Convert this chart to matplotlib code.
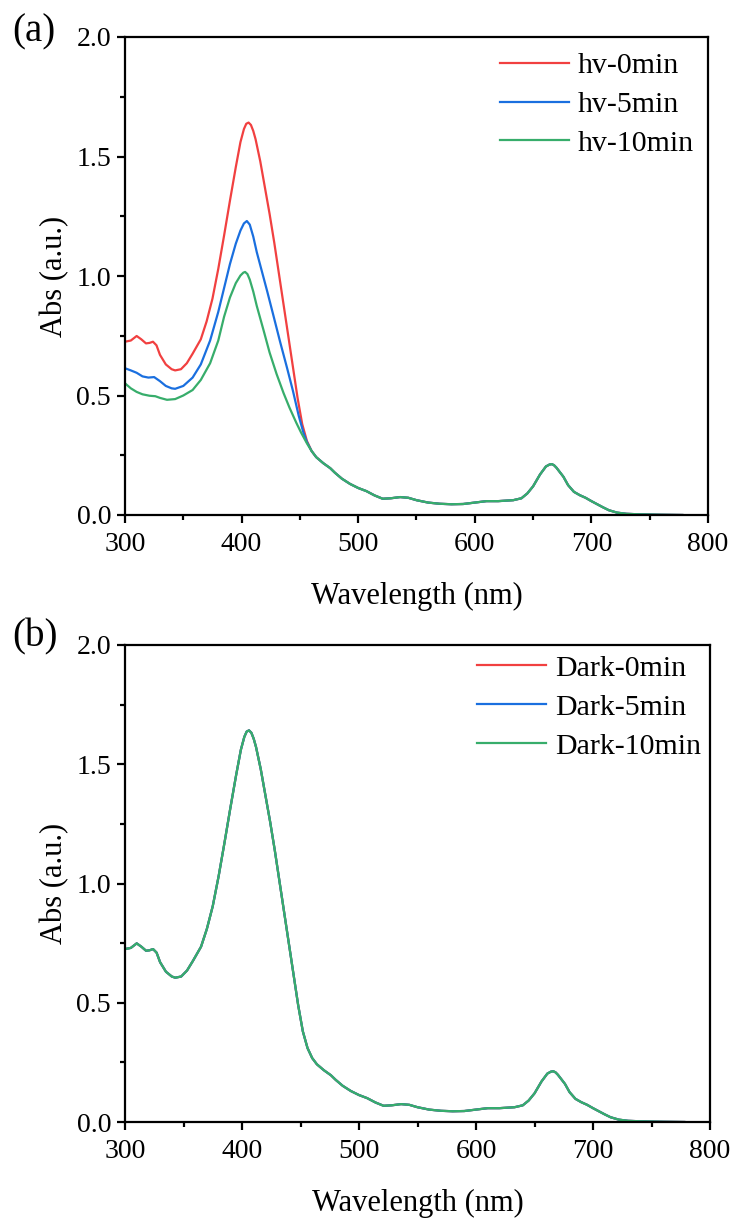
import matplotlib
matplotlib.use("Agg")
import matplotlib.pyplot as plt
import numpy as np

plt.rcParams['font.family'] = ['Liberation Serif', 'DejaVu Serif']

# ---------------- data ----------------
# common tail (all curves coincide beyond ~457 nm)
tail_wl = [460, 464, 470, 476, 480, 486, 493, 500, 507, 514, 521, 528, 536, 543,
           550, 560, 570, 580, 590, 600, 610, 620, 633, 640, 645, 650, 656, 661,
           664, 666, 668, 670, 676, 680, 685, 690, 695, 700, 705, 710, 715, 722,
           730, 740, 760, 778]
tail_abs = [0.268, 0.242, 0.217, 0.196, 0.177, 0.152, 0.13, 0.113, 0.10, 0.082,
            0.068, 0.07, 0.075, 0.072, 0.062, 0.052, 0.047, 0.045, 0.046, 0.052,
            0.058, 0.058, 0.062, 0.07, 0.09, 0.12, 0.17, 0.203, 0.211, 0.213,
            0.208, 0.198, 0.16, 0.125, 0.097, 0.083, 0.072, 0.058, 0.045, 0.032,
            0.02, 0.01, 0.005, 0.003, 0.001, 0.0]

hv0_wl = [300, 305, 310, 314, 318, 321, 324, 327, 330, 335, 340, 343, 348, 353,
          358, 365, 370, 375, 380, 385, 390, 395, 399, 402, 404, 406, 408, 410,
          412, 416, 420, 424, 428, 432, 436, 440, 444, 448, 452, 456]
hv0_abs = [0.725, 0.73, 0.749, 0.735, 0.718, 0.72, 0.725, 0.71, 0.67, 0.63,
           0.61, 0.605, 0.61, 0.635, 0.675, 0.735, 0.81, 0.905, 1.03, 1.17,
           1.315, 1.455, 1.56, 1.615, 1.637, 1.642, 1.632, 1.607, 1.572, 1.48,
           1.37, 1.26, 1.14, 1.01, 0.88, 0.75, 0.62, 0.49, 0.38, 0.31]

hv5_wl = [300, 305, 310, 315, 320, 325, 330, 335, 340, 343, 350, 358, 365, 373,
          380, 385, 390, 395, 399, 402, 404.5, 407, 410, 413, 416, 422, 427, 433,
          439, 444, 449, 453, 456]
hv5_abs = [0.614, 0.605, 0.595, 0.58, 0.575, 0.577, 0.56, 0.54, 0.53, 0.528,
           0.54, 0.575, 0.63, 0.73, 0.85, 0.95, 1.05, 1.135, 1.19, 1.22, 1.23,
           1.215, 1.165, 1.10, 1.045, 0.935, 0.84, 0.725, 0.615, 0.52, 0.415,
           0.345, 0.305]

hv10_wl = [300, 305, 310, 315, 321, 326, 330, 336, 343, 350, 358, 365, 373, 380,
           385, 390, 395, 399, 401.5, 403, 405, 407, 410, 413, 419, 424, 430,
           436, 441, 447, 451, 456]
hv10_abs = [0.551, 0.53, 0.515, 0.505, 0.499, 0.497, 0.49, 0.482, 0.485, 0.50,
            0.523, 0.565, 0.635, 0.73, 0.83, 0.91, 0.97, 1.002, 1.014, 1.017,
            1.008, 0.985, 0.935, 0.875, 0.77, 0.68, 0.59, 0.51, 0.45, 0.385,
            0.345, 0.30]

# dark series: read identical to hv-0min curve
dark0_wl = list(hv0_wl)
dark0_abs = list(hv0_abs)
dark5_wl = list(hv0_wl)
dark5_abs = list(hv0_abs)
dark10_wl = list(hv0_wl)
dark10_abs = list(hv0_abs)

labels_a = ['hv-0min', 'hv-5min', 'hv-10min']
labels_b = ['Dark-0min', 'Dark-5min', 'Dark-10min']
colors = ['#F14040', '#1A6FDF', '#37AD6B']

x_ticks = [300, 400, 500, 600, 700, 800]
y_ticks = [0.0, 0.5, 1.0, 1.5, 2.0]


def full(wl, ab):
    return np.array(list(wl) + tail_wl), np.array(list(ab) + tail_abs)


series_a = [full(hv0_wl, hv0_abs), full(hv5_wl, hv5_abs), full(hv10_wl, hv10_abs)]
series_b = [full(dark0_wl, dark0_abs), full(dark5_wl, dark5_abs),
            full(dark10_wl, dark10_abs)]

# ---------------- figure ----------------
W, H = 737, 1218
fig = plt.figure(figsize=(W / 100, H / 100), dpi=100)

ax_a = fig.add_axes([125 / W, 1 - 515 / H, 583 / W, 478 / H])
ax_b = fig.add_axes([125 / W, 1 - 1122 / H, 585 / W, 477 / H])


def style(ax, series, labels, leg_anchor):
    for (x, y), lab, c in zip(series, labels, colors):
        ax.plot(x, y, color=c, lw=1.6, label=lab, solid_joinstyle='round')
    ax.set_xlim(300, 800)
    ax.set_ylim(0, 2.0)
    ax.set_xticks(x_ticks)
    ax.set_yticks(y_ticks)
    ax.set_xticklabels([str(v) for v in x_ticks])
    ax.set_yticklabels([f"{v:.1f}" for v in y_ticks])
    ax.set_xticks(np.arange(350, 800, 100), minor=True)
    ax.set_yticks(np.arange(0.25, 2.0, 0.5), minor=True)
    for s in ax.spines.values():
        s.set_linewidth(1.6)
    ax.tick_params(which='both', direction='out', top=False, right=False,
                   width=1.6, labelsize=20)
    ax.tick_params(axis='x', which='both', pad=6)
    ax.tick_params(axis='y', which='both', pad=4)
    ax.tick_params(which='major', length=6)
    ax.tick_params(which='minor', length=3.5)
    ax.set_xlabel('Wavelength (nm)', fontsize=22, labelpad=18)
    ax.set_ylabel('Abs (a.u.)', fontsize=22, labelpad=5)
    ax.legend(loc='upper left', bbox_to_anchor=leg_anchor, frameon=False,
              fontsize=21.5, handlelength=2.3, handletextpad=0.3,
              labelspacing=0.4, borderpad=0, borderaxespad=0)


style(ax_a, series_a, labels_a, (0.643, 0.968))
style(ax_b, series_b, labels_b, (0.602, 0.979))

fig.text(12 / W, 1 - 32 / H, '(a)', fontsize=28, ha='left', va='center')
fig.text(12 / W, 1 - 637 / H, '(b)', fontsize=28, ha='left', va='center')

fig.savefig('out.png', dpi=100)
